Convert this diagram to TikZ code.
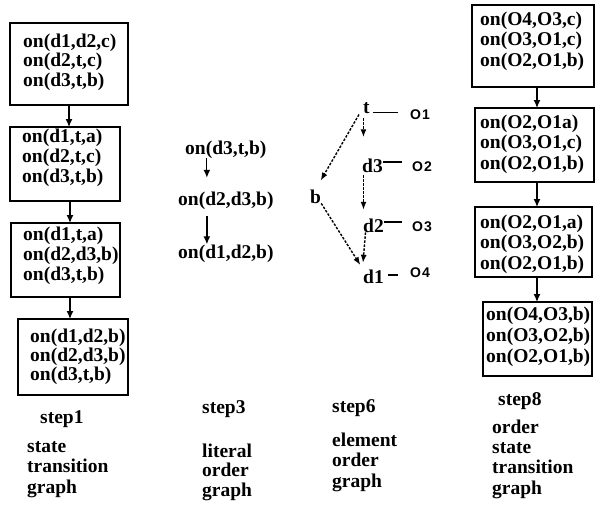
\documentclass[tikz,border=0pt]{standalone}
\usepackage{fontspec}
\setmainfont{Liberation Serif}
\newfontfamily\olabfont{Liberation Sans}
\usetikzlibrary{arrows.meta}
\newcommand\fs{\rule{0pt}{14pt}}
\begin{document}
\begin{tikzpicture}[x=1pt,y=-1pt,
  box/.style={draw, line width=1.6pt, anchor=north west, inner sep=0pt, outer sep=0pt},
  txt/.style={font={\rmfamily\bfseries\fontsize{19.5}{#1}\selectfont}, inner sep=0pt, align=left, anchor=north west},
  txt/.default=20,
  lab/.style={font={\rmfamily\bfseries\fontsize{19.5}{20}\selectfont}, inner sep=0pt, anchor=base west},
  olab/.style={font={\olabfont\bfseries\fontsize{14}{14}\selectfont}, inner sep=0pt, anchor=west},
  arr/.style={line width=1.3pt, -{Latex[length=8pt,width=7pt]}},
  darr/.style={line width=1.4pt, dash pattern=on 2.5pt off 1.5pt, -{Latex[length=8pt,width=6pt]}},
  tie/.style={line width=1.5pt}
]
\useasboundingbox (0,0) rectangle (596,506);

% ---------- step1: state transition graph ----------
\node[box, minimum width=118pt, minimum height=82pt] (b1) at (10,23) {};
\node[box, minimum width=110pt, minimum height=74pt] (b2) at (10,127) {};
\node[box, minimum width=109pt, minimum height=74pt] (b3) at (11,223) {};
\node[box, minimum width=110pt, minimum height=76pt] (b4) at (18,319) {};
\node[txt=19.5] (t1) at (23,33) {\fs on(d1,d2,c)\\on(d2,t,c)\\on(d3,t,b)};
\node[txt=20] (t2) at (22,128) {\fs on(d1,t,a)\\on(d2,t,c)\\on(d3,t,b)};
\node[txt=20] (t3) at (23,226) {\fs on(d1,t,a)\\on(d2,d3,b)\\on(d3,t,b)};
\node[txt=19] (t4) at (30,328) {\fs on(d1,d2,b)\\on(d2,d3,b)\\on(d3,t,b)};
\draw[arr] (b1.south) -- (b1.south |- b2.north);
\draw[arr] ([xshift=5pt]b2.south) -- ([xshift=5pt]b2.south |- b3.north);
\draw[arr] ([xshift=4.5pt]b3.south) -- ([xshift=4.5pt]b3.south |- b4.north);
\node[lab] (s1) at (40,423) {step1};
\node[txt=20.5] (d1lab) at (27,438) {\fs state\\transition\\graph};

% ---------- step3: literal order graph ----------
\node[lab] (l1) at (185,154) {on(d3,t,b)};
\node[lab] (l2) at (178,205) {on(d2,d3,b)};
\node[lab] (l3) at (178,258) {on(d1,d2,b)};
\draw[arr, shorten >=13.5pt] ([xshift=-19pt]l1.south) -- ([xshift=-19pt]l1.south |- l2.north);
\draw[arr, shorten <=6.5pt] ([xshift=-19pt]l2.south) -- ([xshift=-19pt]l2.south |- l3.north);
\node[lab] (s3) at (202,413) {step3};
\node[txt=19.5] (d3lab) at (202,443) {\fs literal\\order\\graph};

% ---------- step6: element order graph ----------
\node[lab] (et) at (363,113) {t};
\node[lab] (ed3) at (362,172) {d3};
\node[lab] (ed2) at (363,232) {d2};
\node[lab] (ed1) at (363,283) {d1};
\node[lab] (eb) at (310,203) {b};
\node[olab] (o1) at (410,115) {O\kern1pt1};
\node[olab] (o2) at (412,167) {O\kern1pt2};
\node[olab] (o3) at (412,227) {O\kern1pt3};
\node[olab] (o4) at (410,273) {O\kern1pt4};
\draw[tie, shorten <=3.5pt, shorten >=12pt] ([yshift=-5pt]et.east) -- ([yshift=-5pt]et.east -| o1.west);
\draw[tie, shorten >=10pt] ([yshift=3.4pt]ed3.east) -- ([yshift=3.4pt]ed3.east -| o2.west);
\draw[tie, shorten >=10pt] ([yshift=3.4pt]ed2.east) -- ([yshift=3.4pt]ed2.east -| o3.west);
\draw[tie, shorten <=4pt, shorten >=12pt] ([yshift=1.4pt]ed1.east) -- ([yshift=1.4pt]ed1.east -| o4.west);
\draw[darr, shorten <=5pt, shorten >=21pt] ([xshift=-3pt]et.south) -- ([xshift=-3pt]et.south |- ed3.north);
\draw[darr, shorten <=3pt, shorten >=8.5pt] ([xshift=-9pt]ed3.south) -- ([xshift=-9pt]ed3.south |- ed2.north);
\draw[darr, shorten >=6.5pt] ([xshift=-8pt]ed2.south) -- ([xshift=-11pt]ed1.north);
\draw[darr, shorten <=8pt, shorten >=10pt] (et.west) -- (eb.north);
\draw[darr, shorten >=5pt] (eb.south east) -- (ed1.north west);
\node[lab] (s6) at (332,412) {step6};
\node[txt=20.5] (d6lab) at (332,432) {\fs element\\order\\graph};

% ---------- step8: order state transition graph ----------
\node[box, minimum width=122pt, minimum height=82pt] (bA) at (472,5) {};
\node[box, minimum width=119pt, minimum height=74pt] (bB) at (475,108) {};
\node[box, minimum width=117pt, minimum height=70pt] (bC) at (475,207) {};
\node[box, minimum width=109pt, minimum height=74pt] (bD) at (483,302) {};
\node[txt=20.5] (tA) at (480,11) {\fs on(O4,O3,c)\\on(O3,O1,c)\\on(O2,O1,b)};
\node[txt=20.5] (tB) at (480,114) {\fs on(O2,O1a)\\on(O3,O1,c)\\on(O2,O1,b)};
\node[txt=20.5] (tC) at (480,214) {\fs on(O2,O1,a)\\on(O3,O2,b)\\on(O2,O1,b)};
\node[txt=21] (tD) at (486,306) {\fs on(O4,O3,b)\\on(O3,O2,b)\\on(O2,O1,b)};
\draw[arr] ([xshift=4pt]bA.south) -- ([xshift=4pt]bA.south |- bB.north);
\draw[arr] ([xshift=2.5pt]bB.south) -- ([xshift=2.5pt]bB.south |- bC.north);
\draw[arr] ([xshift=3.5pt]bC.south) -- ([xshift=3.5pt]bC.south |- bD.north);
\node[lab] (s8) at (498,405) {step8};
\node[txt=20.3] (d8lab) at (492,419) {\fs order\\state\\transition\\graph};
\end{tikzpicture}
\end{document}
